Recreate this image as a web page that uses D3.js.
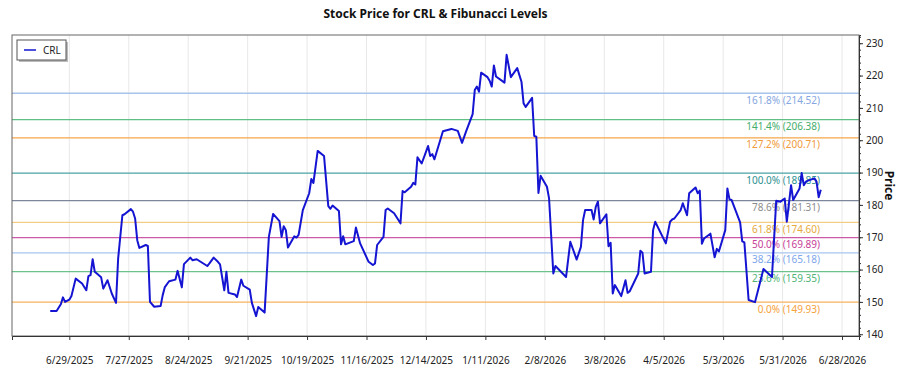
<!DOCTYPE html>
<html>
<head>
<meta charset="utf-8">
<script src="https://cdn.jsdelivr.net/npm/d3@7"></script>
<style>
  body { margin: 0; background: #fff; }
  svg { font-family: "Noto Sans", "Open Sans", sans-serif; }
</style>
</head>
<body>
<svg id="chart"></svg>
<script>
const ticker = 'CRL';

const dates = [
  '2025-06-20','2025-06-23','2025-06-25','2025-06-26','2025-06-27','2025-06-29','2025-06-30','2025-07-02','2025-07-05','2025-07-07',
  '2025-07-08','2025-07-09','2025-07-10','2025-07-11','2025-07-14','2025-07-15','2025-07-17','2025-07-19','2025-07-21','2025-07-22',
  '2025-07-24','2025-07-25','2025-07-28','2025-07-29','2025-07-30','2025-07-31','2025-08-01','2025-08-04','2025-08-05','2025-08-06',
  '2025-08-08','2025-08-11','2025-08-12','2025-08-13','2025-08-15','2025-08-18','2025-08-19','2025-08-21','2025-08-22','2025-08-25',
  '2025-08-26','2025-08-28','2025-09-02','2025-09-03','2025-09-05','2025-09-07','2025-09-08','2025-09-10','2025-09-11','2025-09-12',
  '2025-09-15','2025-09-16','2025-09-18','2025-09-19','2025-09-22','2025-09-23','2025-09-25','2025-09-26','2025-09-29','2025-10-01',
  '2025-10-03','2025-10-06','2025-10-07','2025-10-08','2025-10-09','2025-10-10','2025-10-13','2025-10-14','2025-10-15','2025-10-17',
  '2025-10-20','2025-10-21','2025-10-22','2025-10-24','2025-10-27','2025-10-29','2025-10-30','2025-10-31','2025-11-03','2025-11-04',
  '2025-11-05','2025-11-06','2025-11-10','2025-11-11','2025-11-13','2025-11-17','2025-11-19','2025-11-20','2025-11-21','2025-11-24',
  '2025-11-25','2025-11-26','2025-11-29','2025-12-02','2025-12-03','2025-12-04','2025-12-07','2025-12-08','2025-12-09','2025-12-10',
  '2025-12-12','2025-12-15','2025-12-16','2025-12-17','2025-12-18','2025-12-22','2025-12-26','2025-12-29','2025-12-31','2026-01-02',
  '2026-01-05','2026-01-06','2026-01-07','2026-01-08','2026-01-09','2026-01-12','2026-01-13','2026-01-14','2026-01-15','2026-01-16',
  '2026-01-20','2026-01-21','2026-01-23','2026-01-26','2026-01-28','2026-01-29','2026-01-30','2026-02-02','2026-02-03','2026-02-04',
  '2026-02-05','2026-02-06','2026-02-09','2026-02-10','2026-02-12','2026-02-13','2026-02-18','2026-02-20','2026-02-23','2026-02-25',
  '2026-02-26','2026-02-27','2026-03-02','2026-03-03','2026-03-04','2026-03-05','2026-03-06','2026-03-09','2026-03-10','2026-03-11',
  '2026-03-12','2026-03-13','2026-03-16','2026-03-18','2026-03-19','2026-03-20','2026-03-24','2026-03-25','2026-03-26','2026-03-27',
  '2026-03-30','2026-03-31','2026-04-01','2026-04-06','2026-04-08','2026-04-09','2026-04-10','2026-04-13','2026-04-14','2026-04-16',
  '2026-04-17','2026-04-20','2026-04-21','2026-04-22','2026-04-23','2026-04-24','2026-04-27','2026-04-29','2026-04-30','2026-05-01',
  '2026-05-04','2026-05-05','2026-05-06','2026-05-07','2026-05-11','2026-05-12','2026-05-13','2026-05-15','2026-05-18','2026-05-22',
  '2026-05-25','2026-05-26','2026-05-28','2026-05-30','2026-06-01','2026-06-02','2026-06-04','2026-06-05','2026-06-08','2026-06-09',
  '2026-06-10','2026-06-11','2026-06-12','2026-06-15','2026-06-16','2026-06-17','2026-06-18'
];

const closes = [
  147.2,147.2,149.3,151.4,150.0,150.7,151.8,157.2,155.7,153.6,
  158.0,158.3,163.2,159.3,157.6,154.1,156.7,152.6,149.7,163.4,
  176.8,177.1,178.7,177.9,175.8,169.1,166.7,167.6,167.3,150.0,
  148.5,148.7,152.1,154.6,156.4,156.9,159.6,154.5,161.7,163.7,
  162.9,163.2,161.1,161.9,163.7,162.4,161.6,153.6,159.3,152.8,
  152.3,151.5,156.9,155.0,153.8,149.7,145.6,148.4,146.7,170.1,
  177.2,175.0,170.1,173.4,172.2,166.8,170.3,169.9,170.7,178.4,
  183.6,188.0,186.8,196.7,195.1,179.6,178.8,179.8,178.1,167.8,
  170.3,167.8,168.8,173.0,168.1,162.4,161.4,161.9,167.6,170.1,
  178.4,178.9,177.4,174.3,184.3,183.9,185.6,186.8,186.3,194.7,
  192.8,198.2,195.1,195.7,194.1,202.8,203.5,202.9,199.2,202.9,
  208.1,215.5,216.6,215.0,220.9,219.5,218.4,216.6,223.1,219.7,
  217.8,226.4,219.5,222.3,218.1,211.4,210.3,213.1,201.3,201.1,
  183.7,189.0,185.6,182.0,158.8,161.1,157.7,168.6,163.1,167.0,
  175.3,178.4,178.4,175.5,179.4,181.0,174.3,177.1,167.2,168.3,
  152.6,155.2,151.8,156.7,152.8,153.3,158.8,165.8,165.2,158.8,
  159.3,172.2,174.8,168.1,174.8,175.5,175.8,178.4,180.5,176.8,
  183.6,185.4,183.6,184.4,168.0,169.6,171.1,163.8,166.4,165.6,
  172.2,185.1,181.7,181.5,174.6,168.7,168.4,150.6,149.93,160.2,
  158.3,157.7,181.3,181.0,182.0,174.8,186.1,181.5,185.1,189.85,
  186.1,187.2,187.5,188.2,187.2,182.4,184.7
];

const xTickDates = [
  '2025-06-29','2025-07-27','2025-08-24','2025-09-21','2025-10-19','2025-11-16','2025-12-14',
  '2026-01-11','2026-02-08','2026-03-08','2026-04-05','2026-05-03','2026-05-31','2026-06-28'
];

// fibonacci levels, low/high taken from the chart labels
const fibLow = 149.93;
const fibHigh = 189.85;
const fibRatios = [0, 0.236, 0.382, 0.5, 0.618, 0.786, 1.0, 1.272, 1.414, 1.618];
const fibLineColors = ['#f7b35c','#6cc28a','#a9c6f2','#cc5aa8','#f3cd84','#7d879c','#4aa3a3','#f7a64a','#5fbf84','#a9c3ea'];
const fibTextColors = ['#f5a13c','#4fb576','#7ea6ea','#c73d98','#e6a93c','#8c8c8c','#2f9191','#f19a3a','#45ad6c','#85a6e0'];

const width = 900, height = 375;
const margin = {top: 35, right: 41, bottom: 39, left: 12};
const w = width - margin.left - margin.right;
const h = height - margin.top - margin.bottom;

const parse = d3.timeParse('%Y-%m-%d');
const data = dates.map((d, i) => ({date: parse(d), close: closes[i]}));

const svg = d3.select('#chart')
  .attr('width', width)
  .attr('height', height);

const g = svg.append('g')
  .attr('transform', `translate(${margin.left},${margin.top})`);

const dExt = d3.extent(data, d => d.date);
const x = d3.scaleTime()
  .domain([d3.timeDay.offset(dExt[0], -18), d3.timeDay.offset(dExt[1], 18)])
  .range([0, w]);

const vExt = d3.extent(closes);
const pad = (vExt[1] - vExt[0]) * 0.076;
const y = d3.scaleLinear()
  .domain([vExt[0] - pad, vExt[1] + pad])
  .range([h, 0]);

const xTicks = xTickDates.map(parse);

// vertical grid
g.append('g')
  .selectAll('line')
  .data(xTicks)
  .enter()
  .append('line')
  .attr('x1', d => x(d))
  .attr('x2', d => x(d))
  .attr('y1', 0)
  .attr('y2', h)
  .style('stroke', '#e8e8e8')
  .style('stroke-width', 1);

// fib lines + labels
const fib = fibRatios.map((r, i) => ({
  ratio: r,
  value: fibLow + (fibHigh - fibLow) * r,
  line: fibLineColors[i],
  text: fibTextColors[i]
}));

const fibG = g.append('g');
fibG.selectAll('line')
  .data(fib)
  .enter()
  .append('line')
  .attr('x1', 0)
  .attr('x2', w)
  .attr('y1', d => y(d.value))
  .attr('y2', d => y(d.value))
  .style('stroke', d => d.line)
  .style('stroke-width', 1.3);

// price line
const line = d3.line()
  .x(d => x(d.date))
  .y(d => y(d.close));

g.append('path')
  .datum(data)
  .attr('d', line)
  .style('fill', 'none')
  .style('stroke', '#1414d2')
  .style('stroke-width', 2)
  .style('stroke-linejoin', 'round');

fibG.selectAll('text')
  .data(fib)
  .enter()
  .append('text')
  .attr('x', 808)
  .attr('y', d => y(d.value) + 10.5)
  .attr('text-anchor', 'end')
  .style('font-size', '10px')
  .style('fill', d => d.text)
  .text(d => `${(d.ratio * 100).toFixed(1)}% (${d.value.toFixed(2)})`);

// frame
g.append('rect')
  .attr('width', w)
  .attr('height', h)
  .style('fill', 'none')
  .style('stroke', '#666')
  .style('stroke-width', 1);

// x axis
const xAxis = g.append('g')
  .attr('transform', `translate(0,${h})`)
  .call(d3.axisBottom(x)
    .tickValues(xTicks)
    .tickFormat(d3.timeFormat('%-m/%-d/%Y'))
    .tickSize(4)
    .tickPadding(17));
xAxis.select('.domain').style('stroke', '#333');
xAxis.selectAll('line').style('stroke', '#333');
xAxis.selectAll('text')
  .style('font-size', '10px')
  .style('fill', '#222')
  .style('font-family', '"Noto Sans", "Open Sans", sans-serif');

// y axis on the right, major + minor ticks
const yMinor = g.append('g')
  .attr('transform', `translate(${w},0)`)
  .call(d3.axisRight(y)
    .tickValues(d3.range(140, 233, 2))
    .tickSize(2)
    .tickFormat(''));
yMinor.select('.domain').style('stroke', '#333');
yMinor.selectAll('line').style('stroke', '#333');

const yAxis = g.append('g')
  .attr('transform', `translate(${w},0)`)
  .call(d3.axisRight(y)
    .tickValues(d3.range(140, 231, 10))
    .tickSize(4)
    .tickPadding(3));
yAxis.select('.domain').remove();
yAxis.selectAll('line').style('stroke', '#333');
yAxis.selectAll('text')
  .style('font-size', '10px')
  .style('fill', '#222')
  .style('font-family', '"Noto Sans", "Open Sans", sans-serif');

// axis title
svg.append('text')
  .attr('transform', `translate(885,${margin.top + h / 2}) rotate(90)`)
  .attr('text-anchor', 'middle')
  .style('font-size', '12px')
  .style('font-weight', 'bold')
  .style('fill', '#111')
  .text('Price');

// chart title
svg.append('text')
  .attr('x', margin.left + w / 2)
  .attr('y', 18)
  .attr('text-anchor', 'middle')
  .style('font-size', '12px')
  .style('font-weight', 'bold')
  .style('fill', '#111')
  .text(`Stock Price for ${ticker} & Fibunacci Levels`);

// legend
const legend = svg.append('g')
  .attr('transform', 'translate(17,40)');
legend.append('rect')
  .attr('x', 2)
  .attr('y', 2)
  .attr('width', 49)
  .attr('height', 20)
  .style('fill', '#bbb');
legend.append('rect')
  .attr('width', 49)
  .attr('height', 20)
  .style('fill', '#fff')
  .style('stroke', '#555')
  .style('stroke-width', 1);
legend.append('line')
  .attr('x1', 7)
  .attr('x2', 19)
  .attr('y1', 10)
  .attr('y2', 10)
  .style('stroke', '#1414d2')
  .style('stroke-width', 1.5);
legend.append('text')
  .attr('x', 26)
  .attr('y', 13.5)
  .style('font-size', '10px')
  .style('fill', '#222')
  .text(ticker);
</script>
</body>
</html>
